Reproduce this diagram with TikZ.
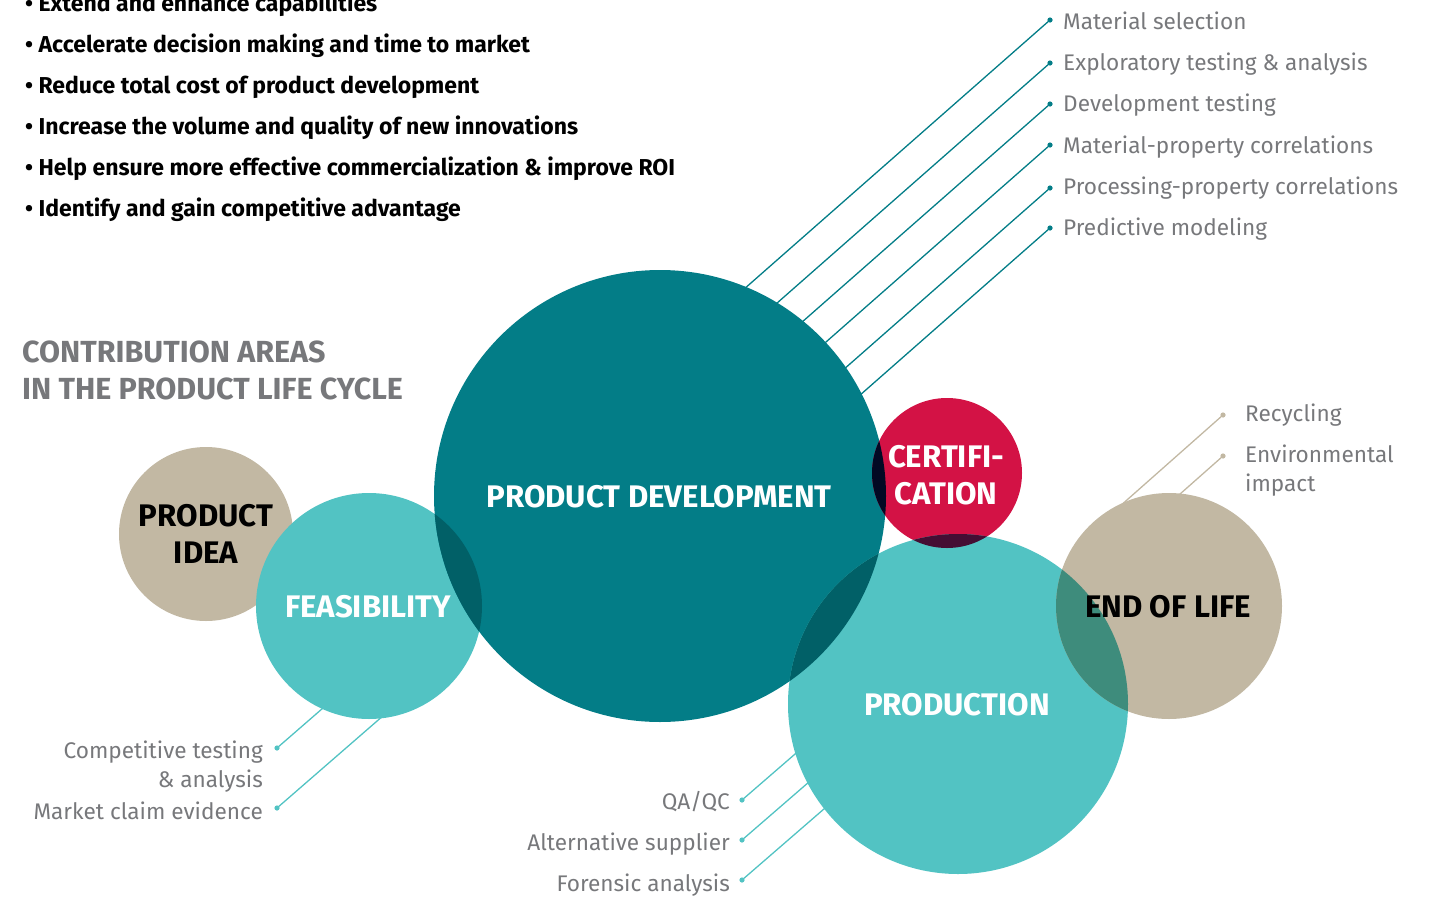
\documentclass[tikz,border=0pt]{standalone}
\usepackage{fontspec}
\setmainfont{Fira Sans}
\usetikzlibrary{calc}
\definecolor{pdteal}{HTML}{037D87}
\definecolor{lteal}{HTML}{52C3C3}
\definecolor{beige}{HTML}{C2B8A3}
\definecolor{crimson}{HTML}{D31245}
\definecolor{lbl}{HTML}{77787B}
\definecolor{ovA}{HTML}{016067}
\definecolor{ovB}{HTML}{020924}
\definecolor{ovC}{HTML}{450E34}
\definecolor{ovD}{HTML}{3E8C7C}
\definecolor{ovE}{HTML}{000616}
\tikzset{
  blob/.style={circle, inner sep=0pt, minimum size=#1},
  bullettext/.style={font=\fontsize{23}{27}\selectfont\bfseries, text=black, inner sep=0pt, anchor=base west},
  lbltext/.style={font=\fontsize{22.6}{26}\selectfont, text=lbl, inner sep=0pt},
  headtext/.style={font=\fontsize{30.5}{37}\selectfont\bfseries, text=lbl, inner sep=0pt, anchor=base west},
  circtext/.style={font=\fontsize{31.2}{37}\selectfont\bfseries, inner sep=0pt, align=center},
  conn/.style={line width=1.3pt},
}
\begin{document}
\begin{tikzpicture}[x=1pt,y=-1pt]
\useasboundingbox (0,0) rectangle (1433,897);
\clip (0,0) rectangle (1433,897);

% bullets
\node[bullettext] (b1) at (25,11) {• Extend and enhance capabilities};
\node[bullettext] (b2) at (25,52) {• Accelerate decision making and time to market};
\node[bullettext] (b3) at (25,93) {• Reduce total cost of product development};
\node[bullettext] (b4) at (25,134) {• Increase the volume and quality of new innovations};
\node[bullettext] (b5) at (25,175) {• Help ensure more effective commercialization \& improve ROI};
\node[bullettext] (b6) at (25,216) {• Identify and gain competitive advantage};

% heading
\node[headtext] (h1) at (22,362) {CONTRIBUTION AREAS};
\node[headtext] (h2) at (22,399) {IN THE PRODUCT LIFE CYCLE};

% connector coordinates
\foreach \i/\y in {1/20,2/63,3/104,4/145,5/188,6/228}{
  \coordinate (m\i) at (1050,\y);
  \coordinate (m\i e) at ($(m\i)+(-340,299)$);
}
\coordinate (f1) at (277,748);
\coordinate (f2) at (277,808);
\coordinate (f1e) at ($(f1)+(130,-113)$);
\coordinate (f2e) at ($(f2)+(130,-113)$);
\coordinate (q1) at (742,800);
\coordinate (q2) at (742,840);
\coordinate (q3) at (742,880);
\foreach \i in {1,2,3}{ \coordinate (q\i e) at ($(q\i)+(120,-104)$); }
\coordinate (r1) at (1223,415);
\coordinate (r2) at (1223,456);
\coordinate (r1e) at ($(r1)+(-130,115)$);
\coordinate (r2e) at ($(r2)+(-130,115)$);

% connectors (behind circles)
\foreach \i in {1,...,6}{
  \draw[conn, pdteal] (m\i) -- (m\i e);
  \fill[pdteal] (m\i) circle[radius=2.6];
}
\foreach \c in {f1,f2,q1,q2,q3}{
  \draw[conn, lteal] (\c) -- (\c e);
  \fill[lteal] (\c) circle[radius=2.6];
}
\foreach \c in {r1,r2}{
  \draw[conn, beige] (\c) -- (\c e);
  \fill[beige] (\c) circle[radius=2.6];
}

% circles
\node[blob=174pt, fill=beige] (idea) at (206,534) {};
\node[blob=226pt, fill=lteal] (feas) at (369,606) {};
\node[blob=452pt, fill=pdteal] (pd) at (660,496) {};
\node[blob=150pt, fill=crimson] (cert) at (947,473) {};
\node[blob=340pt, fill=lteal] (prod) at (958,704) {};
\node[blob=226pt, fill=beige] (eol) at (1169,606) {};

% overlaps
\begin{scope}
  \clip (pd.center) circle[radius=226];
  \fill[ovA] (feas.center) circle[radius=113];
  \fill[ovA] (prod.center) circle[radius=170];
  \fill[ovB] (cert.center) circle[radius=75];
  \begin{scope}
    \clip (cert.center) circle[radius=75];
    \fill[ovE] (prod.center) circle[radius=170];
  \end{scope}
\end{scope}
\begin{scope}[even odd rule]
  \clip (cert.center) circle[radius=75];
  \clip (pd.center) circle[radius=226] (0,0) rectangle (1433,897);
  \fill[ovC] (prod.center) circle[radius=170];
\end{scope}
\begin{scope}
  \clip (prod.center) circle[radius=170];
  \fill[ovD] (eol.center) circle[radius=113];
\end{scope}

% circle labels
\node[circtext, text=black] (ideat) at (idea.center) {PRODUCT\\IDEA};
\node[circtext, text=white] (feast) at (368,607) {FEASIBILITY};
\node[circtext, text=white] (pdt) at (659,497) {PRODUCT DEVELOPMENT};
\node[circtext, text=white] (certt) at (946,475) {CERTIFI-\\CATION};
\node[circtext, text=white] (prodt) at (957,705) {PRODUCTION};
\node[circtext, text=black] (eolt) at (1168,607) {END OF LIFE};

% labels
\node[lbltext, anchor=base west] (l1) at (1063,29) {Material selection};
\node[lbltext, anchor=base west] (l2) at (1063,70) {Exploratory testing \& analysis};
\node[lbltext, anchor=base west] (l3) at (1063,111) {Development testing};
\node[lbltext, anchor=base west] (l4) at (1063,153) {Material-property correlations};
\node[lbltext, anchor=base west] (l5) at (1063,194) {Processing-property correlations};
\node[lbltext, anchor=base west] (l6) at (1063,235) {Predictive modeling};
\node[lbltext, anchor=base west] (e1) at (1245,421) {Recycling};
\node[lbltext, anchor=base west] (e2) at (1245,462) {Environmental};
\node[lbltext, anchor=base west] (e3) at (1245,491) {impact};
\node[lbltext, anchor=base east] (c1) at (263,758) {Competitive testing};
\node[lbltext, anchor=base east] (c2) at (263,787) {\& analysis};
\node[lbltext, anchor=base east] (c3) at (263,819) {Market claim evidence};
\node[lbltext, anchor=base east] (p1) at (730,809) {QA/QC};
\node[lbltext, anchor=base east] (p2) at (730,850) {Alternative supplier};
\node[lbltext, anchor=base east] (p3) at (730,891) {Forensic analysis};
\end{tikzpicture}
\end{document}
